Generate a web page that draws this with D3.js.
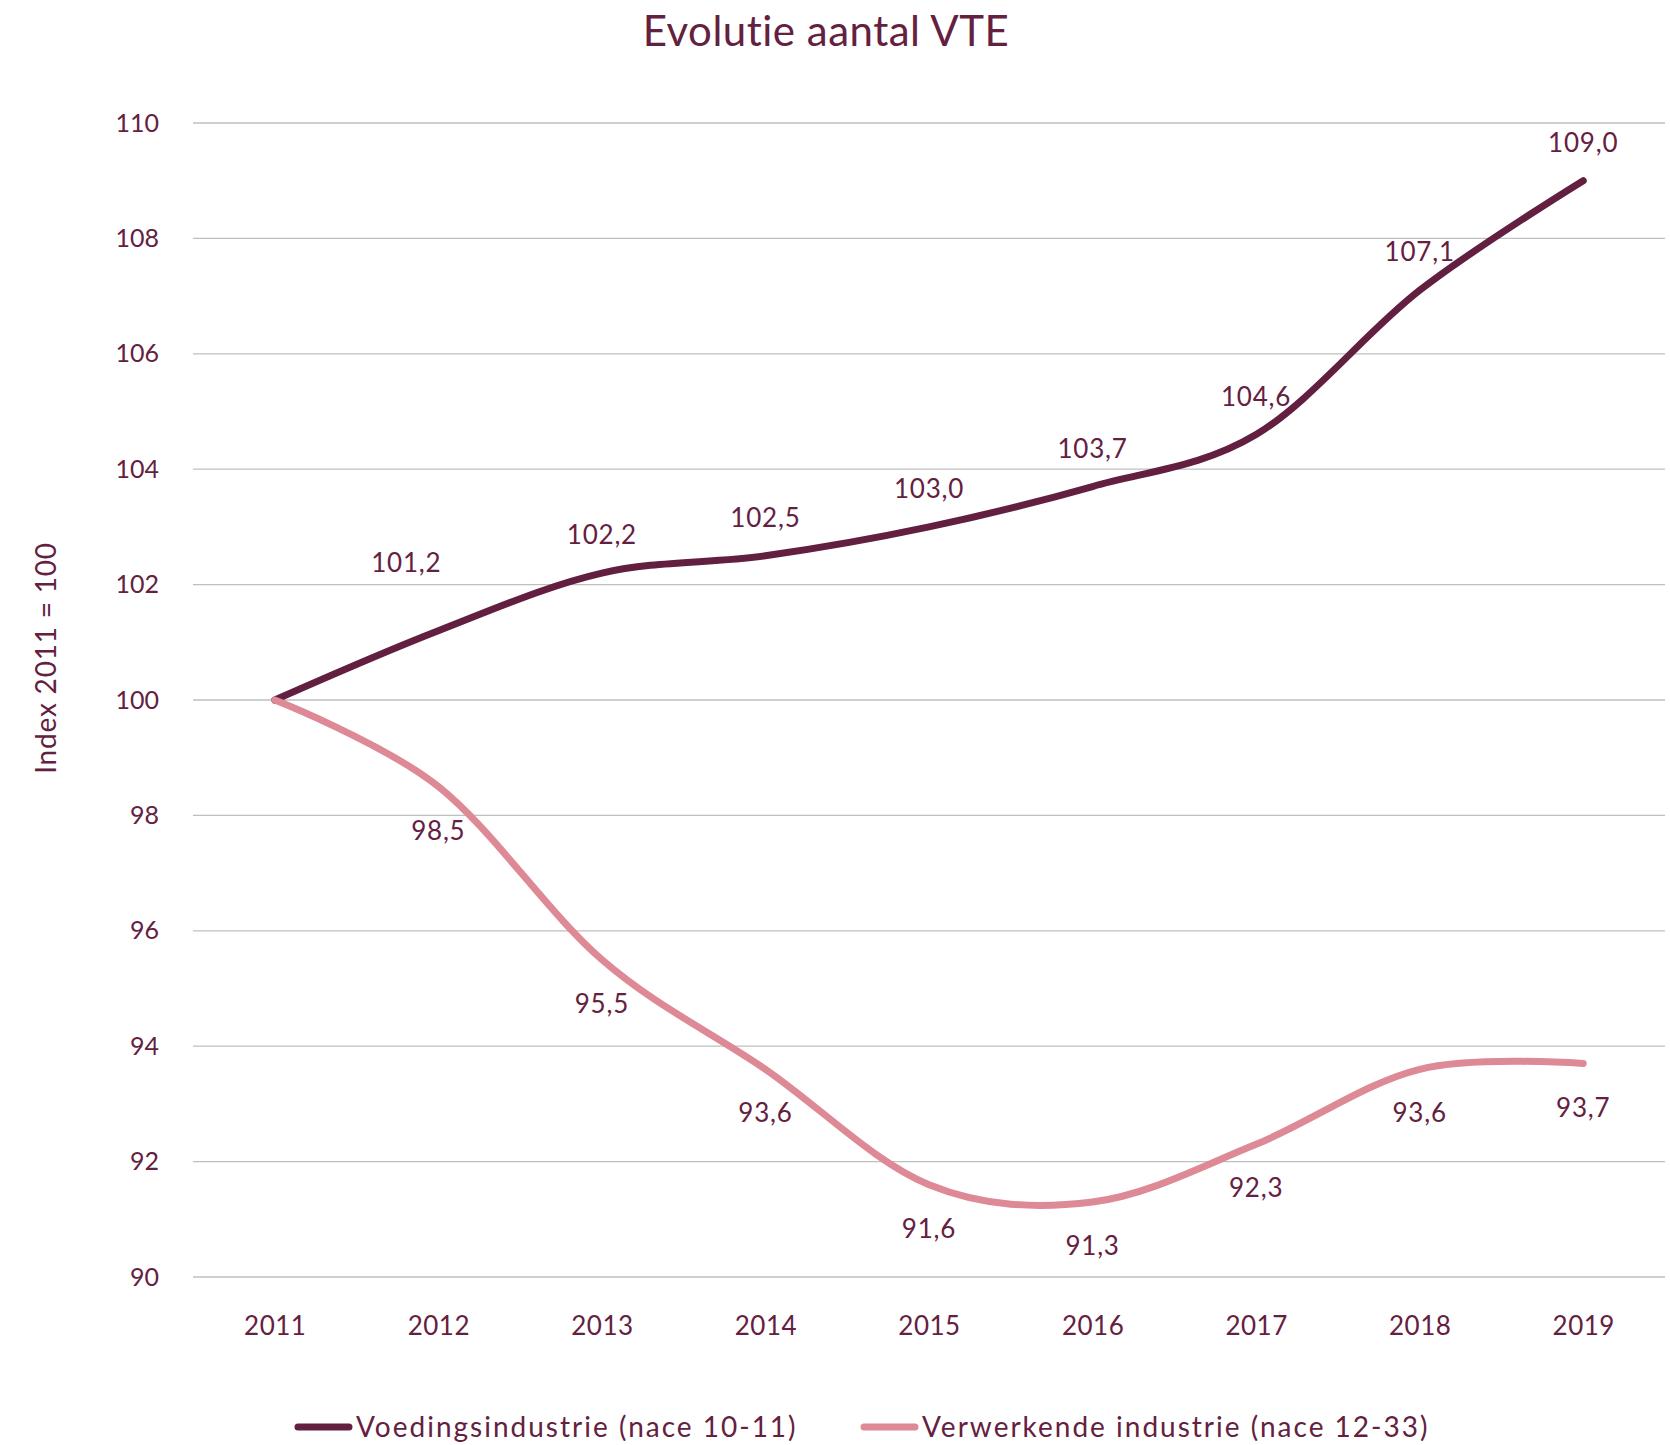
<!DOCTYPE html>
<html>
<head>
<meta charset="utf-8">
<script src="https://cdn.jsdelivr.net/npm/d3@7"></script>
<style>
  body { margin: 0; background: #fff; }
  svg { font-family: Lato, "Noto Sans", sans-serif; }
</style>
</head>
<body>
<svg></svg>
<script>
var width = 1670;
var height = 1445;
var margin = {top: 123, bottom: 168, left: 193, right: 5};

var textColor = "#64203f";
var colors = ["#621f40", "#de8996"];

// data
var years = ["2011", "2012", "2013", "2014", "2015", "2016", "2017", "2018", "2019"];
var seriesNames = ["Voedingsindustrie (nace 10-11)", "Verwerkende industrie (nace 12-33)"];
var voeding = [100, 101.2, 102.2, 102.5, 103.0, 103.7, 104.6, 107.1, 109.0];
var verwerkend = [100, 98.5, 95.5, 93.6, 91.6, 91.3, 92.3, 93.6, 93.7];
var yTicks = [90, 92, 94, 96, 98, 100, 102, 104, 106, 108, 110];

var series = [
    {name: seriesNames[0], values: voeding, color: colors[0], labelPos: "above"},
    {name: seriesNames[1], values: verwerkend, color: colors[1], labelPos: "below"}
];

var svg = d3.select("svg")
    .attr("width", width)
    .attr("height", height);

//Scales
var xScale = d3.scalePoint().domain(years)
    .range([margin.left, width - margin.right]).padding(0.5);
var yScale = d3.scaleLinear().domain([90, 110])
    .range([height - margin.bottom, margin.top]);

// gridlines
svg.append("g")
    .selectAll("line")
    .data(yTicks)
    .join("line")
    .attr("x1", margin.left)
    .attr("x2", width - margin.right)
    .attr("y1", d => yScale(d))
    .attr("y2", d => yScale(d))
    .attr("stroke", "#bfbfbf")
    .attr("stroke-width", 1.3);

// y axis
var yAxis = d3.axisLeft(yScale).tickValues(yTicks).tickSize(0).tickPadding(34);
var gy = svg.append("g")
    .attr("transform", "translate(" + [margin.left, 0] + ")")
    .call(yAxis);
gy.select(".domain").remove();
gy.selectAll("text")
    .attr("fill", textColor)
    .attr("font-size", 25)
    .attr("font-family", "Lato, sans-serif");

// x axis
var xAxis = d3.axisBottom(xScale).tickSize(0).tickPadding(40);
var gx = svg.append("g")
    .attr("transform", "translate(" + [0, height - margin.bottom] + ")")
    .call(xAxis);
gx.select(".domain").remove();
gx.selectAll("text")
    .attr("fill", textColor)
    .attr("font-size", 26)
    .attr("letter-spacing", 0.5)
    .attr("font-family", "Lato, sans-serif");

// lines
var line = d3.line()
    .x((d, i) => xScale(years[i]))
    .y(d => yScale(d))
    .curve(d3.curveCardinal.tension(0));

svg.append("g")
    .selectAll("path")
    .data(series)
    .join("path")
    .attr("d", d => line(d.values))
    .attr("fill", "none")
    .attr("stroke", d => d.color)
    .attr("stroke-width", 7)
    .attr("stroke-linecap", "round")
    .attr("stroke-linejoin", "round");

// data labels
var fmt = v => d3.format(".1f")(v).replace(".", ",");
series.forEach(function(s) {
    svg.append("g")
        .selectAll("text")
        .data(s.values.slice(1))
        .join("text")
        .attr("x", (d, i) => xScale(years[i + 1]) + (s.labelPos == "above" && i == 0 ? -32 : 0))
        .attr("y", (d, i) => yScale(d) + (s.labelPos == "above" ? (i == 0 ? -59 : -29) : 53))
        .attr("text-anchor", "middle")
        .attr("fill", textColor)
        .attr("font-size", 26)
        .attr("letter-spacing", 0.8)
        .text(d => fmt(d));
});

// title
svg.append("text")
    .attr("x", 826)
    .attr("y", 46)
    .attr("text-anchor", "middle")
    .attr("fill", textColor)
    .attr("font-size", 42)
    .attr("letter-spacing", 0.5)
    .text("Evolutie aantal VTE");

// y axis title
svg.append("text")
    .attr("transform", "translate(" + [56, 658] + ") rotate(-90)")
    .attr("text-anchor", "middle")
    .attr("fill", textColor)
    .attr("font-size", 28)
    .attr("letter-spacing", 0.8)
    .text("Index 2011 = 100");

// legend
var legendX = [295, 861];
var legend = svg.append("g")
    .selectAll("g")
    .data(series)
    .join("g")
    .attr("transform", (d, i) => "translate(" + [legendX[i], 1427] + ")");
legend.append("line")
    .attr("x1", 3).attr("x2", 54)
    .attr("stroke", d => d.color)
    .attr("stroke-width", 7)
    .attr("stroke-linecap", "round");
legend.append("text")
    .attr("x", 61)
    .attr("y", 10)
    .attr("fill", textColor)
    .attr("font-size", 28)
    .attr("letter-spacing", 2)
    .text(d => d.name);
</script>
</body>
</html>
